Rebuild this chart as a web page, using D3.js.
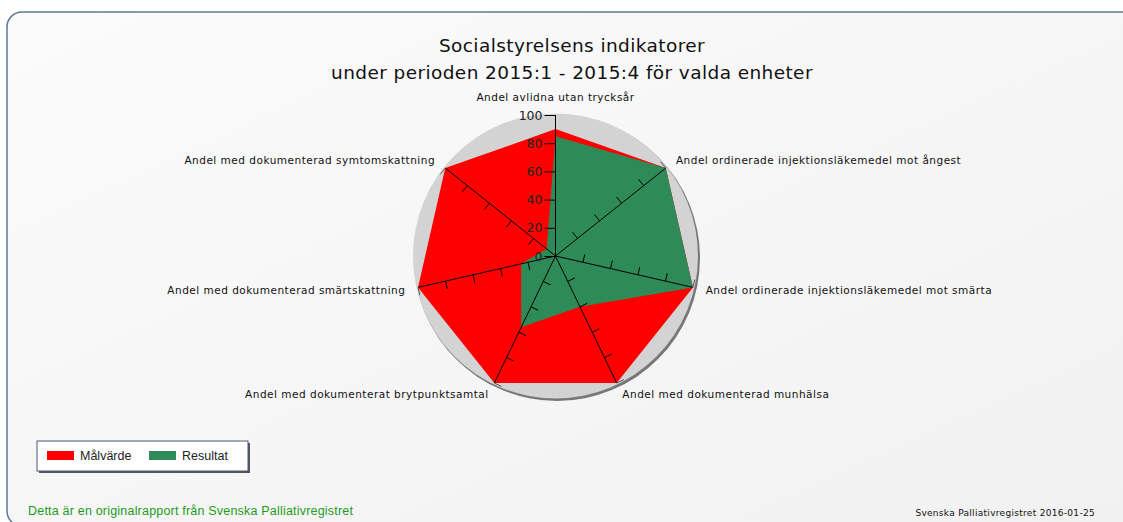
<!DOCTYPE html>
<html>
<head>
<meta charset="utf-8">
<script src="https://cdn.jsdelivr.net/npm/d3@7"></script>
<style>
  body { margin: 0; background: #fff; }
  svg { display: block; }
</style>
</head>
<body>
<div id="chart"></div>
<script>
// Indicator names, clockwise from the top
const indicators = [
  "Andel avlidna utan trycksår",
  "Andel ordinerade injektionsläkemedel mot ångest",
  "Andel ordinerade injektionsläkemedel mot smärta",
  "Andel med dokumenterad munhälsa",
  "Andel med dokumenterat brytpunktsamtal",
  "Andel med dokumenterad smärtskattning",
  "Andel med dokumenterad symtomskattning"
];
const malvarde = [90, 100, 100, 100, 100, 100, 100];
const resultat = [85, 100, 100, 40, 56, 25, 8];
const tickValues = [0, 20, 40, 60, 80, 100];
const seriesNames = ["Målvärde", "Resultat"];
const titleLines = ["Socialstyrelsens indikatorer",
                    "under perioden 2015:1 - 2015:4 för valda enheter"];
const footLeft = "Detta är en originalrapport från Svenska Palliativregistret";
const footRight = "Svenska Palliativregistret 2016-01-25";

const W = 1123, H = 522;
const cx = 555.5, cy = 256, R = 141;
const verdana = "'DejaVu Sans', sans-serif";
const arial = "'Liberation Sans', Arial, sans-serif";

const svg = d3.select("#chart").append("svg")
              .attr("width", W)
              .attr("height", H);

const defs = svg.append("defs");
const bg = defs.append("linearGradient")
               .attr("id", "bg")
               .attr("x1", "0").attr("y1", "0")
               .attr("x2", "1").attr("y2", "1");
bg.append("stop").attr("offset", "0").attr("stop-color", "#fbfbfb");
bg.append("stop").attr("offset", "1").attr("stop-color", "#f1f1f1");

// Frame
svg.append("rect")
   .attr("x", 7).attr("y", 12)
   .attr("width", 1130).attr("height", 514)
   .attr("rx", 15).attr("ry", 15)
   .attr("fill", "url(#bg)")
   .attr("stroke", "#5f7898")
   .attr("stroke-width", 1.5);

// Title
svg.append("g")
   .selectAll("text")
   .data(titleLines)
   .enter()
   .append("text")
   .attr("x", 572)
   .attr("y", (d, i) => 52 + i * 27)
   .attr("text-anchor", "middle")
   .style("font-family", verdana)
   .style("font-size", "18.5px")
   .style("letter-spacing", "0.4px")
   .style("fill", "#111")
   .text(d => d);

const n = indicators.length;
const angle = i => i * 2 * Math.PI / n;
const rScale = d3.scaleLinear().domain([0, 100]).range([0, R]);
const colors = d3.scaleOrdinal(seriesNames, ["#ff0000", "#2e8b57"]);

const g = svg.append("g")
             .attr("transform", "translate(" + cx + "," + cy + ")");

// Background disc with a shadow
g.append("circle")
 .attr("cx", 1.5).attr("cy", 2)
 .attr("r", R + 2)
 .attr("fill", "#777");
g.append("circle")
 .attr("r", R + 1.5)
 .attr("fill", "#d3d3d3");

const radar = d3.lineRadial()
                .angle((d, i) => angle(i))
                .radius(d => rScale(d))
                .curve(d3.curveLinearClosed);

g.selectAll("path.series")
 .data([malvarde, resultat])
 .enter()
 .append("path")
 .attr("class", "series")
 .attr("d", d => radar(d))
 .attr("fill", (d, i) => colors(seriesNames[i]));

// Spokes
const dir = i => [Math.sin(angle(i)), -Math.cos(angle(i))];

g.selectAll("line.spoke")
 .data(indicators)
 .enter()
 .append("line")
 .attr("class", "spoke")
 .attr("x1", 0).attr("y1", 0)
 .attr("x2", (d, i) => dir(i)[0] * rScale(100))
 .attr("y2", (d, i) => dir(i)[1] * rScale(100))
 .attr("stroke", "#000")
 .attr("stroke-width", 1);

// Ticks on every spoke except the first, on the counter-clockwise side
const tickLen = 8;
const ticks = [];
indicators.forEach((name, i) => {
  if (i === 0) return;
  tickValues.slice(1).forEach(v => ticks.push({i: i, v: v}));
});

g.selectAll("line.tick")
 .data(ticks)
 .enter()
 .append("line")
 .attr("class", "tick")
 .attr("x1", d => dir(d.i)[0] * rScale(d.v))
 .attr("y1", d => dir(d.i)[1] * rScale(d.v))
 .attr("x2", d => dir(d.i)[0] * rScale(d.v) + dir(d.i)[1] * tickLen)
 .attr("y2", d => dir(d.i)[1] * rScale(d.v) - dir(d.i)[0] * tickLen)
 .attr("stroke", d => d.v === 100 ? "#555" : "#000")
 .attr("stroke-width", 1);

// Labelled axis on the first spoke
const yScale = d3.scaleLinear().domain([0, 100]).range([0, -R]);
g.append("g")
 .call(d3.axisLeft(yScale).tickValues(tickValues).tickSize(11).tickPadding(2))
 .call(a => a.select(".domain").remove())
 .call(a => a.selectAll("line").attr("stroke", "#000"))
 .call(a => a.selectAll("text")
             .style("font-family", verdana)
             .style("font-size", "12.5px")
             .style("fill", "#222"));

// Spoke labels
g.selectAll("text.label")
 .data(indicators)
 .enter()
 .append("text")
 .attr("class", "label")
 .attr("x", (d, i) => dir(i)[0] * (R + 13))
 .attr("y", (d, i) => i === 0 ? -R - 18 : dir(i)[1] * (R + 13))
 .attr("dy", "0.35em")
 .attr("text-anchor", (d, i) => {
   const s = dir(i)[0];
   if (s > 0.1) return "start";
   if (s < -0.1) return "end";
   return "middle";
 })
 .style("font-family", verdana)
 .style("font-size", "10.5px")
 .style("letter-spacing", "0.5px")
 .style("fill", "#111")
 .text(d => d);

// Legend
const legend = svg.append("g").attr("transform", "translate(37,441)");
legend.append("rect")
      .attr("x", 2).attr("y", 2)
      .attr("width", 211).attr("height", 30)
      .attr("fill", "#555");
legend.append("rect")
      .attr("width", 211).attr("height", 30)
      .attr("fill", "#fff")
      .attr("stroke", "#4a5a78")
      .attr("stroke-width", 1);

const item = legend.selectAll("g.item")
                   .data(seriesNames)
                   .enter()
                   .append("g")
                   .attr("class", "item")
                   .attr("transform", (d, i) => "translate(" + (10 + i * 102) + ",0)");
item.append("rect")
    .attr("y", 10).attr("width", 27).attr("height", 9)
    .attr("fill", d => colors(d));
item.append("text")
    .attr("x", 33).attr("y", 15)
    .attr("dy", "0.35em")
    .style("font-family", arial)
    .style("font-size", "12.5px")
    .style("fill", "#222")
    .text(d => d);

// Footers
svg.append("text")
   .attr("x", 28).attr("y", 511)
   .attr("dy", "0.35em")
   .style("font-family", arial)
   .style("font-size", "12.5px")
   .style("letter-spacing", "0.2px")
   .style("fill", "#1f9a1f")
   .text(footLeft);

svg.append("text")
   .attr("x", 1095).attr("y", 513)
   .attr("dy", "0.35em")
   .attr("text-anchor", "end")
   .style("font-family", verdana)
   .style("font-size", "9px")
   .style("letter-spacing", "0.3px")
   .style("fill", "#111")
   .text(footRight);
</script>
</body>
</html>
